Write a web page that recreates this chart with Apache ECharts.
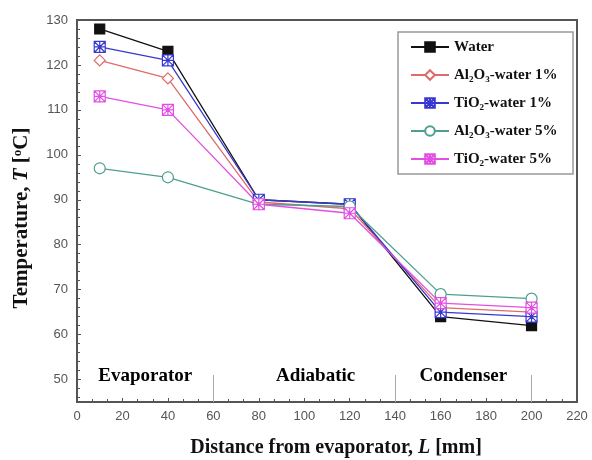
<!DOCTYPE html>
<html>
<head>
<meta charset="utf-8">
<script src="https://cdn.jsdelivr.net/npm/echarts@6/dist/echarts.min.js"></script>
<style>
  html, body { margin: 0; padding: 0; background: #fff; }
  #main { width: 592px; height: 460px; }
</style>
</head>
<body>
<div id="main"></div>
<script>
// distance from evaporator [mm]
var distance = [10, 40, 80, 120, 160, 200];
// wall temperature [°C] per fluid
var water = [128, 123, 90, 89, 64, 62];
var al2o3_1 = [121, 117, 89.5, 88, 66, 65];
var tio2_1 = [124, 121, 90, 89, 65, 64];
var al2o3_5 = [97, 95, 89, 88.5, 69, 68];
var tio2_5 = [113, 110, 89, 87, 67, 66];

// section labels along the pipe
var regionNames = ['Evaporator', 'Adiabatic', 'Condenser'];
var regionCenters = [30, 105, 170];
var regionBounds = [60, 140, 200];
var regionLabelY = 50.8;
var regionLineTop = 51;

var serif = 'Liberation Serif, Times New Roman, serif';
var sans = 'Liberation Sans, Arial, sans-serif';

// legend names with chemistry subscripts
var legendRich = {
  'Water': 'Water',
  'Al2O3-water 1%': 'Al{s|2}O{s|3}-water 1%',
  'TiO2-water 1%': 'TiO{s|2}-water 1%',
  'Al2O3-water 5%': 'Al{s|2}O{s|3}-water 5%',
  'TiO2-water 5%': 'TiO{s|2}-water 5%'
};

var crossSquare = 'path://M0,0L10,0L10,10L0,10Z M0,0L10,10 M10,0L0,10 M5,0L5,10 M0,5L10,5';

function pairs(ys) {
  return distance.map(function (x, i) { return [x, ys[i]]; });
}

function lineSeries(name, ys, color, symbol, filled) {
  return {
    name: name,
    type: 'line',
    data: pairs(ys),
    color: color,
    symbol: symbol,
    symbolSize: filled ? 10 : 11,
    lineStyle: { color: color, width: 1.3 },
    itemStyle: {
      color: filled ? color : '#fff',
      borderColor: color,
      borderWidth: 1.2
    },
    z: 3
  };
}

var chart = echarts.init(document.getElementById('main'), null, { renderer: 'canvas' });

var option = {
  animation: false,
  backgroundColor: '#fff',
  grid: {
    left: 77,
    right: 15,
    top: 20,
    bottom: 58,
    outerBoundsMode: 'none',
    containLabel: false,
    show: true,
    borderColor: '#555',
    borderWidth: 2
  },
  legend: {
    orient: 'vertical',
    left: 405,
    top: 33,
    itemWidth: 38,
    itemHeight: 12,
    itemGap: 10,
    data: ['Water', 'Al2O3-water 1%', 'TiO2-water 1%', 'Al2O3-water 5%', 'TiO2-water 5%'],
    formatter: function (name) { return legendRich[name]; },
    textStyle: {
      fontFamily: serif,
      fontWeight: 'bold',
      fontSize: 15,
      color: '#111',
      lineHeight: 18,
      rich: {
        s: {
          fontFamily: serif,
          fontWeight: 'bold',
          fontSize: 9,
          color: '#111',
          lineHeight: 18,
          verticalAlign: 'bottom'
        }
      }
    }
  },
  graphic: [{
    type: 'rect',
    shape: { x: 398, y: 32, width: 175, height: 142 },
    style: { fill: 'none', stroke: '#999', lineWidth: 1.5 },
    z: 10
  }],
  xAxis: {
    type: 'value',
    min: 0,
    max: 220,
    interval: 20,
    name: 'Distance from evaporator, {i|L} [mm]',
    nameLocation: 'middle',
    nameGap: 36,
    nameTextStyle: {
      fontFamily: serif,
      fontWeight: 'bold',
      fontSize: 20,
      color: '#111',
      padding: [0, 0, 0, 18],
      rich: {
        i: { fontFamily: serif, fontWeight: 'bold', fontStyle: 'italic', fontSize: 20, color: '#111' }
      }
    },
    axisLine: { lineStyle: { color: '#555', width: 2 } },
    axisTick: { inside: true, length: 4, lineStyle: { color: '#555' } },
    minorTick: { show: true, splitNumber: 3, length: 3, lineStyle: { color: '#555' } },
    splitLine: { show: false },
    axisLabel: { color: '#555', fontSize: 13, fontFamily: sans, margin: 8 }
  },
  yAxis: {
    type: 'value',
    min: 45,
    max: 130,
    splitNumber: 8,
    name: 'Temperature, {i|T} [{sup|o}C]',
    nameLocation: 'middle',
    nameGap: 45,
    nameTextStyle: {
      fontFamily: serif,
      fontWeight: 'bold',
      fontSize: 21,
      color: '#111',
      padding: [0, 14, 0, 0],
      rich: {
        i: { fontFamily: serif, fontWeight: 'bold', fontStyle: 'italic', fontSize: 21, color: '#111' },
        sup: { fontFamily: serif, fontWeight: 'bold', fontSize: 13, color: '#111', verticalAlign: 'top', padding: [0, 0, 8, 0] }
      }
    },
    axisLine: { lineStyle: { color: '#555', width: 2 } },
    axisTick: { inside: true, length: 4, lineStyle: { color: '#555' } },
    minorTick: { show: true, splitNumber: 5, length: 3, lineStyle: { color: '#555' } },
    splitLine: { show: false },
    axisLabel: {
      color: '#555', fontSize: 13, fontFamily: sans, margin: 9,
      formatter: function (v) { return v % 10 === 0 ? v : ''; }
    }
  },
  series: [
    lineSeries('Water', water, '#111', 'rect', true),
    lineSeries('Al2O3-water 1%', al2o3_1, '#e06a6a', 'diamond', false),
    lineSeries('TiO2-water 1%', tio2_1, '#3838d0', crossSquare, false),
    lineSeries('Al2O3-water 5%', al2o3_5, '#4f9e90', 'circle', false),
    lineSeries('TiO2-water 5%', tio2_5, '#e24fe2', crossSquare, false),
    {
      name: 'regions',
      type: 'scatter',
      symbolSize: 0,
      silent: true,
      itemStyle: { opacity: 1 },
      data: regionCenters.map(function (x) { return [x, regionLabelY]; }),
      label: {
        show: true,
        position: 'inside',
        formatter: function (p) { return regionNames[p.dataIndex]; },
        fontFamily: serif,
        fontWeight: 'bold',
        fontSize: 19,
        color: '#000',
        opacity: 1
      },
      markLine: {
        silent: true,
        symbol: 'none',
        label: { show: false },
        lineStyle: { color: '#aaa', width: 1, type: 'solid', opacity: 1 },
        data: regionBounds.map(function (x) {
          return [{ coord: [x, 45] }, { coord: [x, regionLineTop] }];
        })
      }
    }
  ]
};

chart.setOption(option);
</script>
</body>
</html>
